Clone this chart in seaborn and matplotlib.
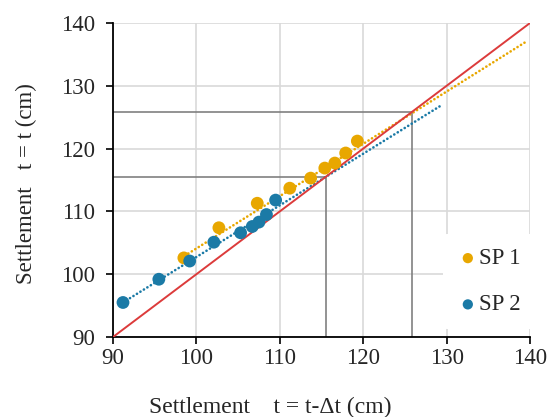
import matplotlib
matplotlib.use("Agg")
import matplotlib.pyplot as plt
import seaborn as sns
import pandas as pd

# --- data ---
sp1_x = [98.5, 102.7, 107.3, 111.2, 113.7, 115.4, 116.6, 117.9, 119.3]
sp1_y = [102.6, 107.4, 111.3, 113.7, 115.3, 116.9, 117.7, 119.3, 121.2]
sp2_x = [91.2, 95.5, 99.2, 102.1, 105.3, 106.7, 107.5, 108.4, 109.5]
sp2_y = [95.5, 99.2, 102.1, 105.1, 106.6, 107.6, 108.3, 109.5, 111.8]

sp1_trend_x = [98.2, 139.5]
sp1_trend_y = [102.6, 137.0]
sp2_trend_x = [91.2, 129.5]
sp2_trend_y = [95.5, 127.0]

equal_x = [90, 140]
equal_y = [90, 140]

guide1 = 115.5
guide2 = 125.9

xticks = [90, 100, 110, 120, 130, 140]
yticks = [90, 100, 110, 120, 130, 140]

orange = "#E8A700"
blue = "#1B7AA6"

sns.set_style("white")
plt.rcParams["font.family"] = ["Liberation Serif", "DejaVu Serif"]

fig = plt.figure(figsize=(5.53, 4.17), dpi=100)
ax = fig.add_axes([0.2043, 0.1918, 0.7541, 0.7530])

ax.grid(True, color="#d9d9d9", linewidth=1.2, zorder=0)
ax.set_axisbelow(True)

# guide lines
ax.plot([guide1, guide1], [90, guide1], color="#808080", lw=1.2, zorder=1)
ax.plot([90, guide1], [guide1, guide1], color="#808080", lw=1.2, zorder=1)
ax.plot([guide2, guide2], [90, guide2], color="#808080", lw=1.2, zorder=1)
ax.plot([90, guide2], [guide2, guide2], color="#808080", lw=1.2, zorder=1)

# trend lines (dotted)
t1 = pd.DataFrame({"x": sp1_trend_x, "y": sp1_trend_y})
t2 = pd.DataFrame({"x": sp2_trend_x, "y": sp2_trend_y})
sns.lineplot(data=t1, x="x", y="y", ax=ax, color=orange, lw=1.9,
             linestyle=(0, (0.05, 1.5)), dash_capstyle="round", zorder=2)
sns.lineplot(data=t2, x="x", y="y", ax=ax, color=blue, lw=1.9,
             linestyle=(0, (0.05, 1.5)), dash_capstyle="round", zorder=2)

# y = x line
eq = pd.DataFrame({"x": equal_x, "y": equal_y})
sns.lineplot(data=eq, x="x", y="y", ax=ax, color="#DC3B3B", lw=1.4, zorder=3)

# points
d1 = pd.DataFrame({"x": sp1_x, "y": sp1_y})
d2 = pd.DataFrame({"x": sp2_x, "y": sp2_y})
sns.scatterplot(data=d1, x="x", y="y", ax=ax, color=orange, s=85,
                edgecolor="none", label="SP 1", zorder=4)
sns.scatterplot(data=d2, x="x", y="y", ax=ax, color=blue, s=85,
                edgecolor="none", label="SP 2", zorder=4)

ax.set_xlim(90, 140)
ax.set_ylim(90, 140)
ax.set_xticks(xticks)
ax.set_yticks(yticks)
ax.tick_params(axis="both", labelsize=16.5, direction="out", length=5,
               width=1.2, color="black", bottom=True, left=True)
ax.tick_params(axis="y", pad=8)
ax.tick_params(axis="x", pad=3)

for s in ["top", "right"]:
    ax.spines[s].set_visible(False)
for s in ["left", "bottom"]:
    ax.spines[s].set_color("black")
    ax.spines[s].set_linewidth(1.3)

ax.set_xlabel("Settlement    t = t-\u0394t (cm)", fontsize=17)
ax.set_ylabel("Settlement   t = t (cm)", fontsize=16.5)
ax.xaxis.set_label_coords(0.376, -0.19)
ax.yaxis.set_label_coords(-0.182, 0.49)

leg = ax.legend(loc="center left", bbox_to_anchor=(0.763, 0.176),
                frameon=True, fontsize=16.5, handletextpad=0.0,
                labelspacing=1.1, markerscale=0.8, borderpad=0.6,
                handlelength=1.0)
leg.get_frame().set_facecolor("white")
leg.get_frame().set_edgecolor("none")
leg.get_frame().set_alpha(1.0)

fig.savefig("out.png", dpi=100)
